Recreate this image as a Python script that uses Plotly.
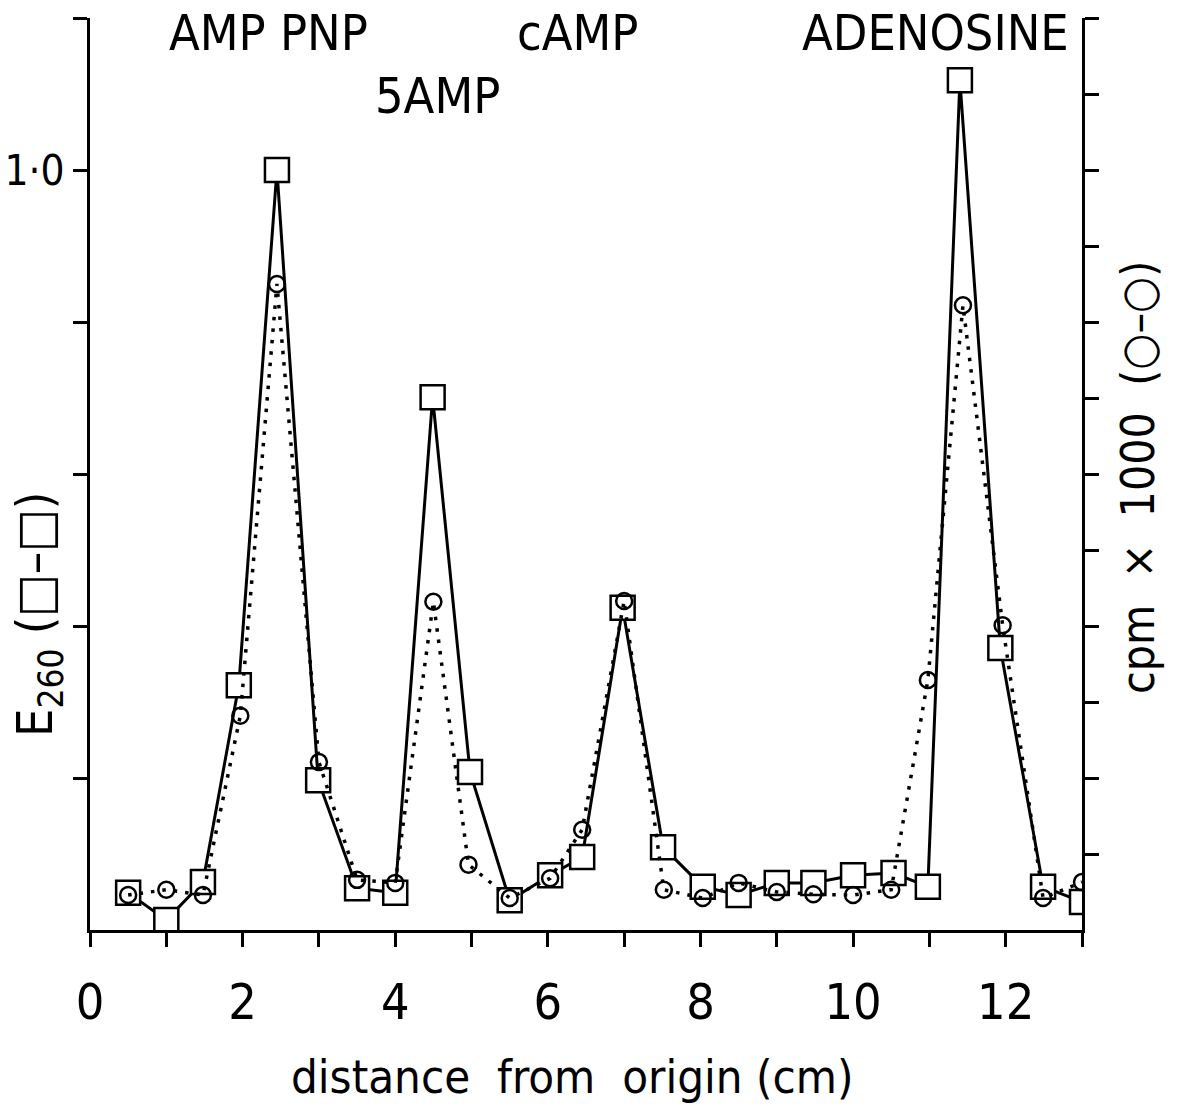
import plotly.graph_objects as go

# distance from origin (cm)
sq_x = [0.5, 1.0, 1.48, 1.95, 2.45, 2.99, 3.5, 4.0, 4.49, 4.98, 5.5, 6.03, 6.45, 6.98,
        7.51, 8.03, 8.5, 9.0, 9.48, 10.0, 10.53, 10.98, 11.4, 11.93, 12.49, 13.0]
# E260 (left axis)
sq_y = [0.049, 0.013, 0.063, 0.322, 1.0, 0.197, 0.055, 0.049, 0.701, 0.208, 0.039, 0.072,
        0.096, 0.424, 0.109, 0.057, 0.046, 0.062, 0.062, 0.072, 0.075, 0.057, 1.118, 0.371,
        0.057, 0.037]

ci_x = [0.5, 1.0, 1.48, 1.97, 2.45, 3.0, 3.5, 4.0, 4.5, 4.96, 5.5, 6.03, 6.45, 7.0,
        7.52, 8.03, 8.5, 9.0, 9.48, 10.0, 10.5, 10.98, 11.44, 11.96, 12.49, 13.0]
# cpm x 1000 (right axis)
ci_y = [0.46, 0.53, 0.46, 2.82, 8.50, 2.21, 0.66, 0.62, 4.32, 0.86, 0.42, 0.68, 1.32, 4.33,
        0.53, 0.42, 0.62, 0.50, 0.47, 0.46, 0.53, 3.29, 8.22, 4.01, 0.42, 0.63]

x_ticks = list(range(0, 14))
x_labels = [str(v) if v % 2 == 0 and v <= 12 else "" for v in x_ticks]
y_ticks = [0.2, 0.4, 0.6, 0.8, 1.0, 1.2]
y_labels = ["", "", "", "", "1·0", ""]
y2_ticks = list(range(1, 13))

peak_labels = ["AMP PNP", "5AMP", "cAMP", "ADENOSINE"]

FONT = "Liberation Sans Narrow, DejaVu Sans Condensed, Liberation Sans, sans-serif"

fig = go.Figure()

fig.add_trace(go.Scatter(
    x=sq_x, y=sq_y, mode="lines+markers", yaxis="y",
    line=dict(color="black", width=3),
    marker=dict(symbol="square", size=24, color="white",
                line=dict(color="black", width=2.5)),
    showlegend=False, hoverinfo="skip"))

fig.add_trace(go.Scatter(
    x=ci_x, y=ci_y, mode="lines+markers", yaxis="y2",
    line=dict(color="black", width=3.5, dash="3.5px,8px"),
    marker=dict(symbol="circle", size=16, color="rgba(0,0,0,0)",
                line=dict(color="black", width=2.5)),
    showlegend=False, hoverinfo="skip"))

axis_common = dict(showline=True, linecolor="black", linewidth=3, ticks="outside",
                   ticklen=14, tickwidth=3, tickcolor="black", showgrid=False,
                   zeroline=False, automargin=False)

fig.update_layout(
    width=1180, height=1106,
    margin=dict(l=90, r=98, t=18, b=176, autoexpand=False),
    paper_bgcolor="white", plot_bgcolor="white",
    font=dict(family=FONT, color="black"),
    xaxis=dict(range=[0, 13], tickvals=x_ticks, ticktext=x_labels,
               tickfont=dict(size=50, family=FONT), ticklabelstandoff=12,
               **axis_common),
    yaxis=dict(range=[0, 1.2], tickvals=y_ticks, ticktext=y_labels,
               tickfont=dict(size=42, family=FONT), ticklabelstandoff=0,
               **axis_common),
    yaxis2=dict(range=[0, 12], tickvals=y2_ticks, ticktext=[""] * len(y2_ticks),
                overlaying="y", side="right", anchor="x", **axis_common),
)

# peak labels
pos = [(268, 33), (437, 96), (577, 33), (935, 33)]
for txt, (px, py) in zip(peak_labels, pos):
    fig.add_annotation(text=txt, xref="paper", yref="paper",
                       x=(px - 90) / 992, y=1 - (py - 18) / 912,
                       xanchor="center", yanchor="middle", showarrow=False,
                       font=dict(size=50, family=FONT))

# x title
fig.add_annotation(text="distance\u00a0\u00a0from\u00a0\u00a0origin\u00a0(cm)",
                   xref="paper", yref="paper",
                   x=(572 - 90) / 992, y=1 - (1076 - 18) / 912,
                   xanchor="center", yanchor="middle", showarrow=False,
                   font=dict(size=47, family=FONT))

# left title
fig.add_annotation(text="E<sub>260</sub>\u00a0(□–□)", textangle=-90,
                   xref="paper", yref="paper",
                   x=(38 - 90) / 992, y=1 - (615 - 18) / 912,
                   xanchor="center", yanchor="middle", showarrow=False,
                   font=dict(size=50, family=FONT))

# right title
fig.add_annotation(text="cpm\u00a0\u00a0×\u00a0\u00a01000\u00a0\u00a0(○–○)", textangle=-90,
                   xref="paper", yref="paper",
                   x=(1138 - 90) / 992, y=1 - (478 - 18) / 912,
                   xanchor="center", yanchor="middle", showarrow=False,
                   font=dict(size=46, family=FONT))

fig.write_html("out.html")
